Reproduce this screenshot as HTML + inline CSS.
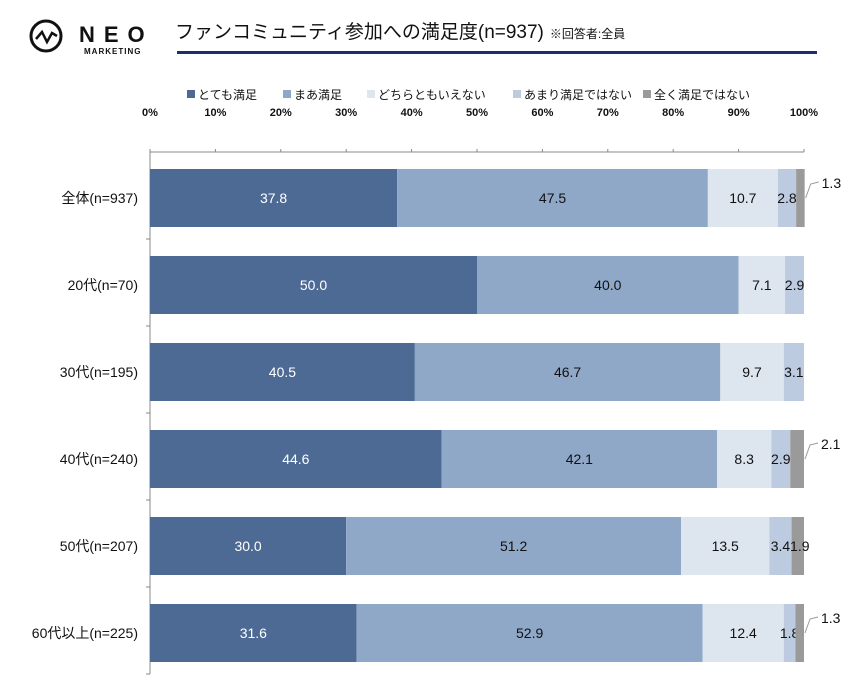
<!DOCTYPE html>
<html><head><meta charset="utf-8"><style>
body{margin:0;background:#fff;width:857px;height:691px;overflow:hidden;font-family:"Liberation Sans","Noto Sans CJK JP",sans-serif;}
svg text{font-family:"Liberation Sans","Noto Sans CJK JP",sans-serif;}
</style></head><body>
<svg width="857" height="691">
<g>
<circle cx="46" cy="36" r="15" fill="none" stroke="#111" stroke-width="3"/>
<polyline points="36,39 42,32 47,42 52,33 57,36" fill="none" stroke="#111" stroke-width="2.5"/>
<text x="79" y="42" font-size="22" font-weight="bold" letter-spacing="9" fill="#111">NEO</text>
<text x="84" y="54" font-size="8" font-weight="bold" letter-spacing="1" fill="#111">MARKETING</text>
</g>
<text x="175" y="38" font-size="19" fill="#111">ファンコミュニティ参加への満足度(n=937)<tspan font-size="12" dx="6">※回答者:全員</tspan></text>
<rect x="177" y="51" width="640" height="3" fill="#1f2d6b"/>
<g id="legend"></g>
<g id="axis"></g>
<g id="bars"></g>
</svg>
<script>
const categories=["全体(n=937)","20代(n=70)","30代(n=195)","40代(n=240)","50代(n=207)","60代以上(n=225)"];
const seriesNames=["とても満足","まあ満足","どちらともいえない","あまり満足ではない","全く満足ではない"];
const verySatisfied=[37.8,50.0,40.5,44.6,30.0,31.6];
const satisfied=[47.5,40.0,46.7,42.1,51.2,52.9];
const neutral=[10.7,7.1,9.7,8.3,13.5,12.4];
const notVery=[2.8,2.9,3.1,2.9,3.4,1.8];
const notAtAll=[1.3,0,0,2.1,1.9,1.3];
const ticks=[0,10,20,30,40,50,60,70,80,90,100];
const colors=["#4d6a94","#90a8c8","#dde5ef","#bccbdf","#9a9a9a"];
const series=[verySatisfied,satisfied,neutral,notVery,notAtAll];
const NS="http://www.w3.org/2000/svg";
const X0=150,X1=804,Y0=152,ROW=87,BH=58;
const xs=v=>X0+(X1-X0)*v/100;
function mk(tag,attrs,parent,txt){const e=document.createElementNS(NS,tag);for(const k in attrs)e.setAttribute(k,attrs[k]);if(txt!=null)e.textContent=txt;parent.appendChild(e);return e;}
const lg=document.getElementById('legend');
const lx=[187,283,367,513,643];
seriesNames.forEach((n,i)=>{
 const r=mk('rect',{x:lx[i],y:90,width:8,height:8,fill:colors[i]},lg);
 
 
 const t=mk('text',{x:lx[i]+11,y:99,'font-size':12,fill:'#111'},lg,n);
 
 
});
const ax=document.getElementById('axis');
mk('line',{x1:X0,y1:Y0,x2:X1,y2:Y0,stroke:'#888','stroke-width':1},ax);
mk('line',{x1:X0,y1:Y0,x2:X0,y2:Y0+ROW*6,stroke:'#888','stroke-width':1},ax);
ticks.forEach(t=>{
 mk('line',{x1:xs(t),y1:Y0-3,x2:xs(t),y2:Y0,stroke:'#888'},ax);
 const e=mk('text',{x:xs(t),y:116,'text-anchor':'middle','font-size':11,'font-weight':'bold',fill:'#111'},ax,t+'%');
 
 
});
const bg=document.getElementById('bars');
categories.forEach((c,r)=>{
 const top=Y0+17+ROW*r, cy=top+BH/2;
 mk('line',{x1:X0-4,y1:Y0+ROW*(r+1),x2:X0,y2:Y0+ROW*(r+1),stroke:'#888'},ax);
 const cl=mk('text',{x:138,y:cy+5,'text-anchor':'end','font-size':14,fill:'#111'},ax,c);
 
 
 let acc=0;
 series.forEach((s,i)=>{
  const v=s[r]; if(!v){return;}
  const x=xs(acc),w=xs(acc+v)-xs(acc);
  const b=mk('rect',{x:x,y:top,width:w,height:BH,fill:colors[i]},bg);
  
  
  if(i<4){
   const tx=mk('text',{x:x+w/2,y:cy+5,'text-anchor':'middle','font-size':14,fill:i==0?'#fff':'#111'},bg,v.toFixed(1));
   
   
  } else if(r==4){
   const tx=mk('text',{x:x+w/2+2,y:cy+5,'text-anchor':'middle','font-size':14,fill:'#111'},bg,v.toFixed(1));
   
   
  } else {
   mk('polyline',{points:`${x+w+1},${cy} ${x+w+6},${cy-14} ${x+w+14},${cy-16}`,fill:'none',stroke:'#999'},bg);
   const tx=mk('text',{x:x+w+17,y:cy-10,'font-size':14,fill:'#111'},bg,v.toFixed(1));
   
   
  }
  acc+=v;
 });
});
</script>
</body></html>
